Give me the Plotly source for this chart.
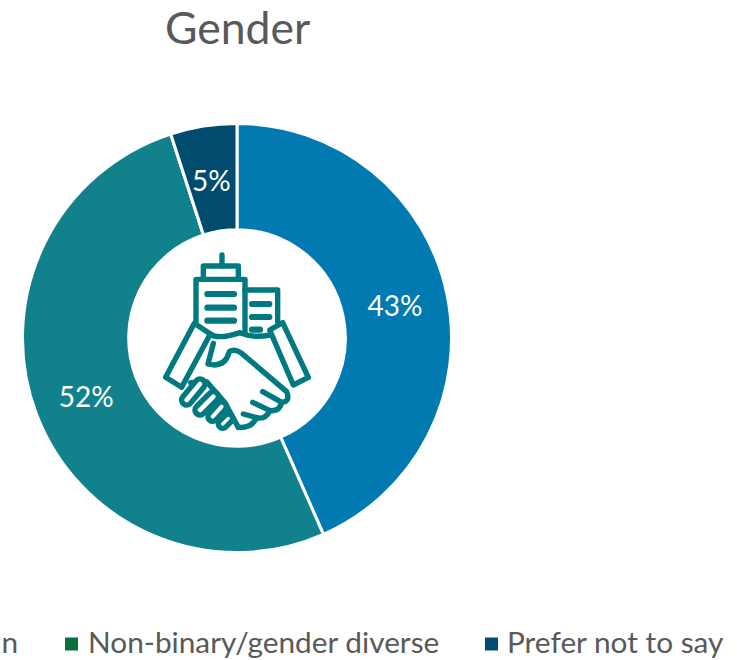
import math
import plotly.graph_objects as go

title = "Gender"
labels = ["Woman", "Non-binary/gender diverse", "Prefer not to say"]
all_labels = ["Man", "Woman", "Non-binary/gender diverse", "Prefer not to say"]
values = [43.4, 51.6, 0, 5.0]
colors = ["#007AB0", "#11828C", "#0B6E3E", "#004B6E"]
legend_right_px = [20, 441, 726]
legend_colors = colors[1:]
FONT = "Lato, Carlito, Calibri, sans-serif"
GREY = "#595959"
ICON = "#007A80"
W, H = 741, 660

def X(px): return px / W
def Y(py): return 1 - py / H
def zx(v): return X(150 + v / 3)
def zy(v): return Y(240 + v / 3)

def path(cmds):
    out = []
    for c in cmds:
        if c == "Z":
            out.append("Z")
        else:
            op = c[0]
            nums = c[1:]
            pts = " ".join(f"{zx(nums[i]):.5f},{zy(nums[i+1]):.5f}" for i in range(0, len(nums), 2))
            out.append(op + pts)
    return " ".join(out)

def poly(pts, closed=False):
    cmds = [("M", *pts[0])] + [("L", *p) for p in pts[1:]]
    if closed:
        cmds.append("Z")
    return path(cmds)

def capsule(x1, y1, x2, y2, r):
    d = math.hypot(x2 - x1, y2 - y1)
    ux, uy = (x2 - x1) / d, (y2 - y1) / d
    nx, ny = -uy, ux
    k = r * 1.33
    return path([
        ("M", x1 + nx * r, y1 + ny * r),
        ("L", x2 + nx * r, y2 + ny * r),
        ("C", x2 + nx * r + ux * k, y2 + ny * r + uy * k, x2 - nx * r + ux * k, y2 - ny * r + uy * k, x2 - nx * r, y2 - ny * r),
        ("L", x1 - nx * r, y1 - ny * r),
        ("C", x1 - nx * r - ux * k, y1 - ny * r - uy * k, x1 + nx * r - ux * k, y1 + ny * r - uy * k, x1 + nx * r, y1 + ny * r),
        "Z",
    ])

fig = go.Figure(go.Pie(
    labels=all_labels, values=values, sort=False, direction="clockwise", rotation=0,
    hole=0.505,
    marker=dict(colors=colors, line=dict(color="white", width=3)),
    texttemplate=["%{percent:.0%}", "%{percent:.0%}", "", ""],
    textposition="inside", insidetextorientation="horizontal",
    insidetextfont=dict(family=FONT, size=28, color="white"),
    domain=dict(x=[X(22.5), X(451.5)], y=[Y(552.5), Y(123.5)]),
    showlegend=False,
))

shapes = []
def stroke(p, w=5.4, fill=None):
    shapes.append(dict(type="path", path=p, xref="paper", yref="paper",
                       line=dict(color=ICON, width=w),
                       fillcolor=fill if fill else "rgba(0,0,0,0)"))

# building icon
stroke(poly([(138, 245), (138, 118), (285, 118), (285, 275)]))
stroke(poly([(160, 112), (160, 78), (265, 78), (265, 112)]))
stroke(poly([(216, 45), (216, 78)]))
stroke(poly([(285, 150), (383, 150), (383, 245)]))
for a, b, c in [(172, 252, 162), (172, 252, 203), (172, 252, 242), (306, 358, 192), (306, 358, 231), (306, 330, 269)]:
    stroke(capsule(a, c, b, c, 7), 1.5, ICON)
# cuffs
stroke(poly([(133, 250), (181, 282), (95, 442), (47, 412)], True))
stroke(poly([(398, 248), (359, 270), (430, 435), (475, 412)], True))
# hands
stroke(path([("M", 181, 282), ("Q", 205, 300, 270, 278), ("Q", 310, 295, 360, 285)]))
stroke(path([("M", 190, 310), ("L", 174, 372), ("Q", 225, 385, 238, 335), ("Q", 255, 325, 275, 340),
             ("L", 410, 455), ("Q", 422, 485, 395, 487), ("L", 338, 455)]))
stroke(path([("M", 395, 487), ("Q", 390, 515, 360, 512), ("L", 308, 487)]))
stroke(path([("M", 360, 512), ("Q", 345, 540, 320, 533), ("L", 280, 522)]))
stroke(path([("M", 320, 533), ("Q", 305, 565, 265, 562)]))
stroke(path([("M", 122, 428), ("L", 170, 425), ("L", 225, 488), ("L", 250, 535), ("L", 265, 562)]))
for x1, y1, x2, y2, r in [(110, 480, 150, 432, 15), (150, 510, 190, 470, 15), (188, 530, 215, 500, 14), (218, 552, 235, 535, 13)]:
    stroke(capsule(x1, y1, x2, y2, r), 5.4, "white")

annotations = [dict(text=title, x=X(237), y=Y(27), xref="paper", yref="paper", showarrow=False,
                    xanchor="center", yanchor="middle", font=dict(family=FONT, size=44.5, color=GREY)),
               dict(text=f"{values[3]:.0f}%", x=X(212), y=Y(180), xref="paper", yref="paper", showarrow=False,
                    xanchor="center", yanchor="middle", font=dict(family=FONT, size=28, color="white"))]
for lab, right, col in zip(labels, legend_right_px, legend_colors):
    annotations.append(dict(text=lab, x=X(right), y=0, xref="paper", yref="paper", showarrow=False,
                            xanchor="right", yanchor="bottom", height=33, valign="middle",
                            font=dict(family=FONT, size=29.8, color=GREY)))
for x0, col in [(65, legend_colors[1]), (485, legend_colors[2])]:
    shapes.append(dict(type="rect", xref="paper", yref="paper", x0=X(x0), x1=X(x0 + 13), y0=Y(650.5), y1=Y(637.5),
                       fillcolor=col, line=dict(width=0)))

fig.update_layout(width=W, height=H, margin=dict(l=0, r=0, t=0, b=0), paper_bgcolor="white",
                  shapes=shapes, annotations=annotations, showlegend=False)
fig.write_html("out.html", config=dict(displayModeBar=False),
               post_script="document.body.style.margin='0';document.documentElement.style.overflow='hidden';"
                           "document.querySelectorAll('.shapelayer path').forEach(function(p){p.style.strokeLinejoin='round';p.style.strokeLinecap='round';});")
